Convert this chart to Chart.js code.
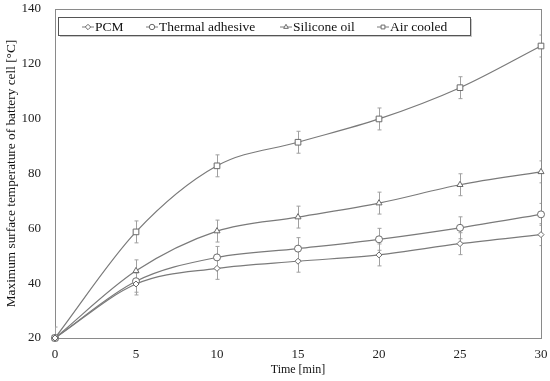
<!DOCTYPE html>
<html>
<head>
<meta charset="utf-8">
<script src="https://cdn.jsdelivr.net/npm/chart.js@4/dist/chart.umd.min.js"></script>
<style>
  html, body { margin: 0; padding: 0; background: #fff; }
  #wrap { width: 550px; height: 381px; }
</style>
</head>
<body>
<div id="wrap"><canvas id="chart" width="550" height="381"></canvas></div>
<script>
// data
const times = [0, 5, 10, 15, 20, 25, 30];
const pcm = [20, 39.7, 45.4, 48.0, 50.3, 54.4, 57.7];
const thermalAdhesive = [20, 40.7, 49.4, 52.6, 56.0, 60.2, 65.1];
const siliconeOil = [20, 44.5, 59.0, 64.1, 69.2, 75.9, 80.6];
const airCooled = [20, 58.7, 82.8, 91.4, 99.9, 111.3, 126.5];
const pcmErr = [0, 4, 4, 4, 4, 4, 4];
const adhesiveErr = [0, 4, 4, 4, 4, 4, 4];
const siliconeErr = [0, 4, 4, 4, 4, 4, 4];
const airErr = [4, 4, 4, 4, 4, 4, 4];
const yTicks = [20, 40, 60, 80, 100, 120, 140];

const lineColor = '#7a7a7a';
const serif = '"Liberation Serif", "Times New Roman", serif';

function toPoints(vals) {
    return times.map((t, i) => ({ x: t, y: vals[i] }));
}

function makeSet(label, vals, errs, style, radius) {
    return {
        label: label,
        data: toPoints(vals),
        errors: errs,
        borderColor: lineColor,
        borderWidth: 1.2,
        pointStyle: style,
        pointRadius: radius,
        pointBackgroundColor: '#fff',
        pointBorderColor: '#6a6a6a',
        pointBorderWidth: 1,
        cubicInterpolationMode: 'monotone',
        clip: false,
        fill: false
    };
}

// error bars drawn before the lines, clipped to the plot area
const errorBars = {
    id: 'errorBars',
    beforeDatasetsDraw(chart) {
        const ctx = chart.ctx;
        const a = chart.chartArea;
        const xs = chart.scales.x, ys = chart.scales.y;
        ctx.save();
        ctx.beginPath();
        ctx.rect(a.left, a.top, a.right - a.left, a.bottom - a.top);
        ctx.clip();
        ctx.strokeStyle = '#a0a0a0';
        ctx.lineWidth = 1;
        chart.data.datasets.forEach(ds => {
            ds.data.forEach((p, i) => {
                const e = ds.errors[i];
                if (!e) return;
                const px = Math.round(xs.getPixelForValue(p.x)) + 0.5;
                const top = ys.getPixelForValue(p.y + e);
                const bot = ys.getPixelForValue(p.y - e);
                ctx.beginPath();
                ctx.moveTo(px, top); ctx.lineTo(px, bot);
                ctx.moveTo(px - 2, top); ctx.lineTo(px + 2, top);
                ctx.moveTo(px - 2, bot); ctx.lineTo(px + 2, bot);
                ctx.stroke();
            });
        });
        ctx.restore();
    }
};

// frame around the plot area
const frame = {
    id: 'frame',
    beforeDatasetsDraw(chart) {
        const a = chart.chartArea, ctx = chart.ctx;
        ctx.save();
        ctx.strokeStyle = '#8a8a8a';
        ctx.lineWidth = 1;
        ctx.strokeRect(Math.round(a.left) + 0.5, Math.round(a.top) + 0.5,
            Math.round(a.right - a.left), Math.round(a.bottom - a.top));
        ctx.restore();
    }
};

// boxed legend inside the plot, top left
const boxLegend = {
    id: 'boxLegend',
    afterDraw(chart) {
        const ctx = chart.ctx;
        const a = chart.chartArea;
        const x0 = a.left + 3, y0 = a.top + 8, h = 18;
        const itemX = [88, 152, 286, 383];
        ctx.save();
        ctx.fillStyle = '#c8c8c8';
        ctx.fillRect(x0 + 2, y0 + 2, 412, h);
        ctx.fillStyle = '#fff';
        ctx.fillRect(x0, y0, 412, h);
        ctx.strokeStyle = '#555';
        ctx.lineWidth = 1;
        ctx.strokeRect(x0 + 0.5, y0 + 0.5, 412, h);
        ctx.font = '13.5px ' + serif;
        ctx.textBaseline = 'middle';
        chart.data.datasets.forEach((ds, i) => {
            const cx = itemX[i], cy = y0 + h / 2 + 1;
            ctx.strokeStyle = lineColor;
            ctx.lineWidth = 1;
            ctx.beginPath();
            ctx.moveTo(cx - 6, cy); ctx.lineTo(cx + 6, cy);
            ctx.stroke();
            ctx.fillStyle = '#fff';
            ctx.strokeStyle = '#6a6a6a';
            Chart.helpers.drawPoint(ctx, {
                pointStyle: ds.pointStyle, radius: 2.7, borderWidth: 1
            }, cx, cy);
            ctx.fillStyle = '#111';
            ctx.fillText(ds.label, cx + 7, cy);
        });
        ctx.restore();
    }
};

new Chart(document.getElementById('chart').getContext('2d'), {
    type: 'line',
    data: {
        datasets: [
            makeSet('PCM', pcm, pcmErr, 'rectRot', 3),
            makeSet('Thermal adhesive', thermalAdhesive, adhesiveErr, 'circle', 3.5),
            makeSet('Silicone oil', siliconeOil, siliconeErr, 'triangle', 3.5),
            makeSet('Air cooled', airCooled, airErr, 'rect', 4)
        ]
    },
    options: {
        responsive: false,
        animation: false,
        layout: { padding: { top: 9, right: 9, left: 0, bottom: 0 } },
        plugins: {
            legend: { display: false },
            tooltip: { enabled: false }
        },
        scales: {
            x: {
                type: 'linear',
                min: 0, max: 30,
                grid: { display: false, drawTicks: false },
                border: { display: false },
                ticks: {
                    stepSize: 5, padding: 9, color: '#222',
                    font: { family: serif, size: 13 }
                },
                title: {
                    display: true, text: 'Time [min]', color: '#111', padding: { top: 0 },
                    font: { family: serif, size: 12 }
                },
                afterFit(scale) {
                    scale.height = 43;
                    scale.paddingLeft = 0;
                    scale.paddingRight = 0;
                }
            },
            y: {
                min: 20, max: 140,
                afterBuildTicks(scale) { scale.ticks = yTicks.map(v => ({ value: v })); },
                grid: { display: false, drawTicks: false },
                border: { display: false },
                ticks: {
                    padding: 14, color: '#222',
                    font: { family: serif, size: 13 }
                },
                title: {
                    display: true, text: 'Maximum surface temperature of battery cell [°C]',
                    color: '#111', padding: { bottom: 2 },
                    font: { family: serif, size: 13.3 }
                },
                afterFit(scale) {
                    scale.width = 55;
                    scale.paddingTop = 0;
                    scale.paddingBottom = 0;
                }
            }
        }
    },
    plugins: [frame, errorBars, boxLegend]
});
</script>
</body>
</html>
